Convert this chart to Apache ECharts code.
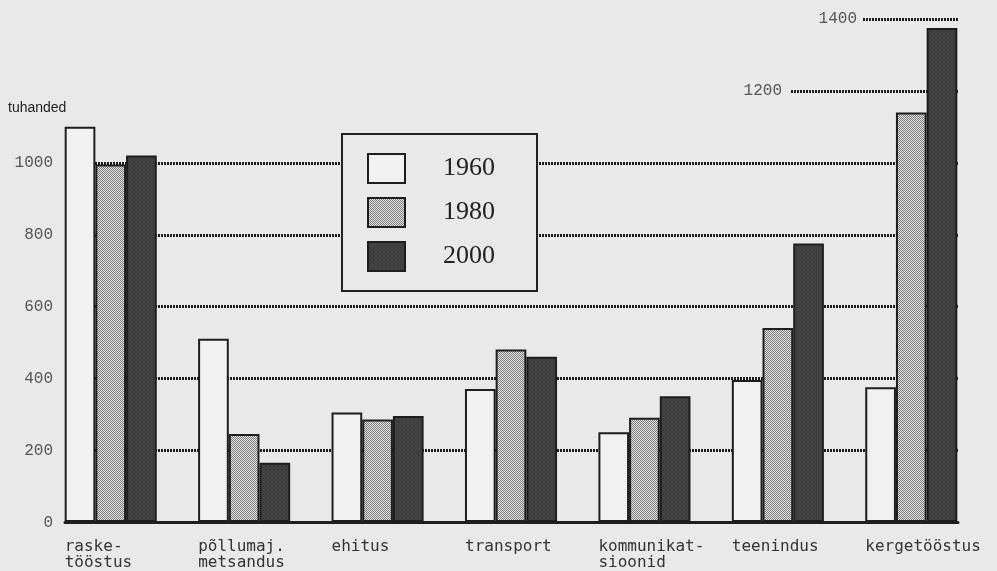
<!DOCTYPE html>
<html>
<head>
<meta charset="utf-8">
<script src="https://cdn.jsdelivr.net/npm/echarts@6/dist/echarts.min.js"></script>
<style>
html,body{margin:0;padding:0;background:#e9e9e9;}
#c{width:997px;height:571px;}
</style>
</head>
<body>
<div id="c"></div>
<script>
// ---- data ----
const categories = ['raske-\ntööstus', 'põllumaj.\nmetsandus', 'ehitus', 'transport', 'kommunikat-\nsioonid', 'teenindus', 'kergetööstus'];
const seriesNames = ['1960', '1980', '2000'];
const v1960 = [1100, 510, 305, 370, 250, 395, 375];
const v1980 = [995, 245, 285, 480, 290, 540, 1140];
const v2000 = [1020, 165, 295, 460, 350, 775, 1375];
const yMax = 1400;

// ---- layout helpers ----
const H = 571;
const baseY = 522.5, topY = 19;
const per = (baseY - topY) / yMax;
const py = v => baseY - v * per;

// patterns
function pat(cells, size) {
  const c = document.createElement('canvas');
  c.width = size; c.height = size;
  const g = c.getContext('2d');
  for (let y = 0; y < size; y++) for (let x = 0; x < size; x++) {
    g.fillStyle = cells[(y * size + x) % cells.length];
    g.fillRect(x, y, 1, 1);
  }
  return c;
}
const dotCanvas = pat(['#7c7c7c', '#e4e4e4', '#e4e4e4', '#7c7c7c'], 2);
const darkCanvas = pat(['#3e3e3e', '#424242', '#454545', '#3c3c3c', '#404040', '#3b3b3b', '#3f3f3f', '#474747', '#434343', '#3d3d3d', '#3a3a3a', '#444444', '#3f3f3f', '#464646', '#3c3c3c', '#414141'], 4);

const gridLine = { show: true, lineStyle: { color: '#1c1c1c', width: 3, type: [2, 1] } };
const yLabel = { fontFamily: 'Liberation Mono', fontSize: 16, color: '#555', formatter: v => String(v) };
const hiddenX = (gi, line) => ({
  type: 'value', gridIndex: gi, min: 0, max: 1, show: true,
  axisLine: line ? { show: true, onZero: true, lineStyle: { color: '#1e1e1e', width: 3 } } : { show: false },
  axisTick: { show: false }, axisLabel: { show: false }, splitLine: { show: false }
});

const border = { borderColor: '#1e1e1e', borderWidth: 2 };
const mkSeries = (name, data, color) => ({
  name, type: 'bar', data, xAxisIndex: 0, yAxisIndex: 0,
  barGap: '0%', barCategoryGap: '31%', z: 3,
  itemStyle: Object.assign({ color }, border)
});

const chart = echarts.init(document.getElementById('c'));
chart.setOption({
  backgroundColor: '#e9e9e9',
  animation: false,
  title: {
    text: 'tuhanded', left: 8, top: 101, padding: 0,
    textStyle: { fontFamily: 'Liberation Sans', fontSize: 14, fontWeight: 'normal', color: '#222' }
  },
  legend: {
    data: seriesNames, orient: 'vertical', left: 342, top: 134, icon: 'rect',
    padding: [19, 42, 19, 25], itemWidth: 37, itemHeight: 29, itemGap: 13,
    borderColor: '#222', borderWidth: 2, backgroundColor: '#e9e9e9',
    itemStyle: border,
    textStyle: { fontFamily: 'Liberation Serif', fontSize: 26, color: '#222', padding: [0, 0, 0, 33] },
    z: 10
  },
  grid: [
    { left: 44, right: 19, top: topY, bottom: H - baseY },
    { left: 65, right: 39, top: py(1000), bottom: H - baseY },
    { left: 791, right: 39, top: py(1200), bottom: H - py(1000) },
    { left: 863, right: 39, top: py(1400), bottom: H - py(1200) }
  ],
  xAxis: [
    {
      type: 'category', gridIndex: 0, data: categories,
      axisLine: { show: false }, axisTick: { show: false },
      axisLabel: {
        interval: 0, margin: 17, align: 'center',
        formatter: v => v.split('\n').map(s => '{a|' + s + '}').join('\n'),
        rich: { a: { width: 92, align: 'left', fontFamily: 'DejaVu Sans Mono', fontSize: 16, lineHeight: 16, color: '#333' } }
      }
    },
    hiddenX(1, true), hiddenX(2, false), hiddenX(3, false)
  ],
  yAxis: [
    { type: 'value', gridIndex: 0, min: 0, max: yMax, show: false, splitLine: { show: false } },
    {
      type: 'value', gridIndex: 1, min: 0, max: 1000, interval: 200,
      axisLine: { show: false }, axisTick: { show: false },
      axisLabel: Object.assign({ margin: 12 }, yLabel), splitLine: gridLine
    },
    {
      type: 'value', gridIndex: 2, min: 1000, max: 1200, interval: 200,
      axisLine: { show: false }, axisTick: { show: false },
      axisLabel: Object.assign({ margin: 9, showMinLabel: false }, yLabel), splitLine: gridLine
    },
    {
      type: 'value', gridIndex: 3, min: 1200, max: 1400, interval: 200,
      axisLine: { show: false }, axisTick: { show: false },
      axisLabel: Object.assign({ margin: 6, showMinLabel: false }, yLabel), splitLine: gridLine
    }
  ],
  series: [
    mkSeries('1960', v1960, '#f1f1f1'),
    mkSeries('1980', v1980, { image: dotCanvas, repeat: 'repeat' }),
    mkSeries('2000', v2000, { image: darkCanvas, repeat: 'repeat' })
  ]
});
</script>
</body>
</html>
